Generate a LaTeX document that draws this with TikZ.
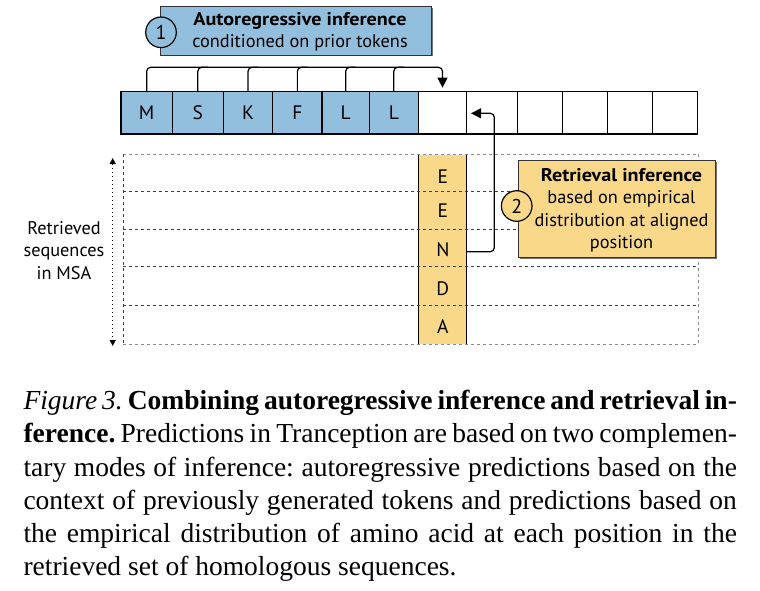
\documentclass[tikz,border=0pt]{standalone}
\usepackage{fontspec}
\setmainfont{Liberation Serif}
\newfontfamily\dsans[BoldFeatures={FakeStretch=1.1}]{PT Sans}
\usetikzlibrary{arrows.meta}
\definecolor{cblue}{RGB}{146,191,222}
\definecolor{cyel}{RGB}{249,216,138}
\frenchspacing
\begin{document}
\begin{tikzpicture}[x=1pt,y=-1pt,
  dfont/.style={font=\dsans\fontsize{18.3}{22.4}\selectfont},
  cell/.style={draw=black, line width=1.3pt, minimum height=42.3pt, inner sep=0pt, font=\dsans\fontsize{19.5}{22.4}\selectfont},
  bcell/.style={cell, fill=cblue},
  infobox/.style={draw=black!80, line width=1pt, inner sep=0pt,
    preaction={fill=black!55, transform canvas={xshift=1.3pt,yshift=-1.3pt}}},
  numcirc/.style={circle, draw=black, line width=1.2pt, inner sep=0pt, minimum size=30.6pt, font=\dsans\fontsize{20}{22}\selectfont},
  link/.style={line width=1.2pt, rounded corners=4pt},
  tip/.style={-{Triangle[width=10pt,length=10pt]}},
  grid/.style={dash pattern=on 3pt off 3pt, line width=0.8pt, black!75},
  gridl/.style={dash pattern=on 3pt off 3pt, line width=0.8pt, black!45},
  caption/.style={anchor=base west, inner sep=0pt, font=\fontsize{27.5}{33}\selectfont}
]
\useasboundingbox (0,0) rectangle (760,590);

% ---------- grid of retrieved sequences
\node[fill=cyel, minimum width=47.7pt, minimum height=189pt, inner sep=0pt] (col) at (442.85,249.5) {};
\draw[line width=1.1pt] (col.north west) -- (col.south west);
\draw[line width=1.1pt] (col.north east) -- (col.south east);
\foreach \y in {191.7,229.3,266.7,305} \draw[grid] (123.3,\y) -- (698.3,\y);
\draw[gridl] (123.3,154) -- (698.3,154);
\draw[gridl] (123.3,344.5) -- (698.3,344.5);
\draw[grid] (123.3,154) -- (123.3,344.5);
\draw[gridl] (698.3,154) -- (698.3,344.5);

\node[cell, draw=none] (e1) at (442.85,176.5) {E};
\node[cell, draw=none] (e2) at (442.85,211) {E};
\node[cell, draw=none] (e3) at (442.85,249.3) {N};
\node[cell, draw=none] (e4) at (442.85,288.3) {D};
\node[cell, draw=none] (e5) at (442.85,326.7) {A};

% ---------- sequence cells
\node[bcell, minimum width=51.3pt] (c1) at (146.65,112.85) {M};
\node[bcell, minimum width=51pt]   (c2) at (197.8,112.85) {S};
\node[bcell, minimum width=49.4pt] (c3) at (248,112.85) {K};
\node[bcell, minimum width=49.3pt] (c4) at (297.35,112.85) {F};
\node[bcell, minimum width=47.3pt] (c5) at (345.65,112.85) {L};
\node[bcell, minimum width=49pt]   (c6) at (393.8,112.85) {L};
\node[cell, minimum width=48.4pt]  (c7) at (442.5,112.85) {};
\node[cell, minimum width=50.6pt]  (c8) at (492,112.85) {};
\node[cell, minimum width=45.4pt]  (c9) at (540,112.85) {};
\node[cell, minimum width=45pt]    (c10) at (585.2,112.85) {};
\node[cell, minimum width=44.6pt]  (c11) at (630,112.85) {};
\node[cell, minimum width=45.4pt]  (c12) at (675,112.85) {};

% ---------- autoregressive bracket
\coordinate (btop) at (0,67.3);
\draw[link, tip] (c1.north) |- (c7.north |- btop) -- ([yshift=3.4pt]c7.north);
\foreach \c in {c2,c3,c4,c5,c6}
  \draw[link] (\c.north) |- ([xshift=10pt]\c.north |- btop);

% ---------- retrieval arrow
\coordinate (rturn) at (494.3,113.3);
\draw[link, tip] ([yshift=-2.4pt]col.east |- e3) -| (rturn) -- ([xshift=5pt]c8.west |- rturn);

% ---------- box 1
\node[infobox, fill=cblue, minimum width=271pt, minimum height=48.3pt] (abox) at (296.2,30.85) {};
\node[dfont, align=center, inner sep=0pt] (atext) at (300,31.8)
  {\textbf{Autoregressive inference}\\conditioned on prior tokens};
\node[numcirc, fill=cblue] (n1) at (161,32.3) {1};

% ---------- box 2
\node[infobox, fill=cyel, minimum width=197.4pt, minimum height=96.6pt] (rbox) at (617,209) {};
\node[dfont, align=center, inner sep=0pt] (rtext) at (621.5,210.5)
  {\textbf{Retrieval inference}\\based on empirical\\distribution at aligned\\position};
\node[numcirc, fill=cyel] (n2) at (516.7,206) {2};

% ---------- MSA label and dotted arrow
\coordinate (mtop) at (112.7,158);
\coordinate (mbot) at (112.7,346);
\draw[line width=1.3pt, dash pattern=on 1.4pt off 2.6pt,
  {Triangle[width=6pt,length=6pt]}-{Triangle[width=6pt,length=6pt]}] (mtop) -- (mbot);
\node[dfont, align=center, inner sep=0pt] (msa) at (64,250.5) {Retrieved\\sequences\\in MSA};

% ---------- caption
\node[caption] (l1) at (23.3,409.3) {\makebox[713.4pt][s]{\textit{Figure 3.} \textbf{Combining autoregressive inference and retrieval in-}}};
\node[caption] (l2) at (23.3,442.7) {\makebox[713.4pt][s]{\textbf{ference.} Predictions in Tranception are based on two complemen-}};
\node[caption] (l3) at (23.3,476.3) {\makebox[713.4pt][s]{tary modes of inference: autoregressive predictions based on the}};
\node[caption] (l4) at (23.3,509.5) {\makebox[713.4pt][s]{context of previously generated tokens and predictions based on}};
\node[caption] (l5) at (23.3,542.7) {\makebox[713.4pt][s]{the empirical distribution of amino acid at each position in the}};
\node[caption] (l6) at (23.3,575.5) {retrieved set of homologous sequences.};
\end{tikzpicture}
\end{document}
